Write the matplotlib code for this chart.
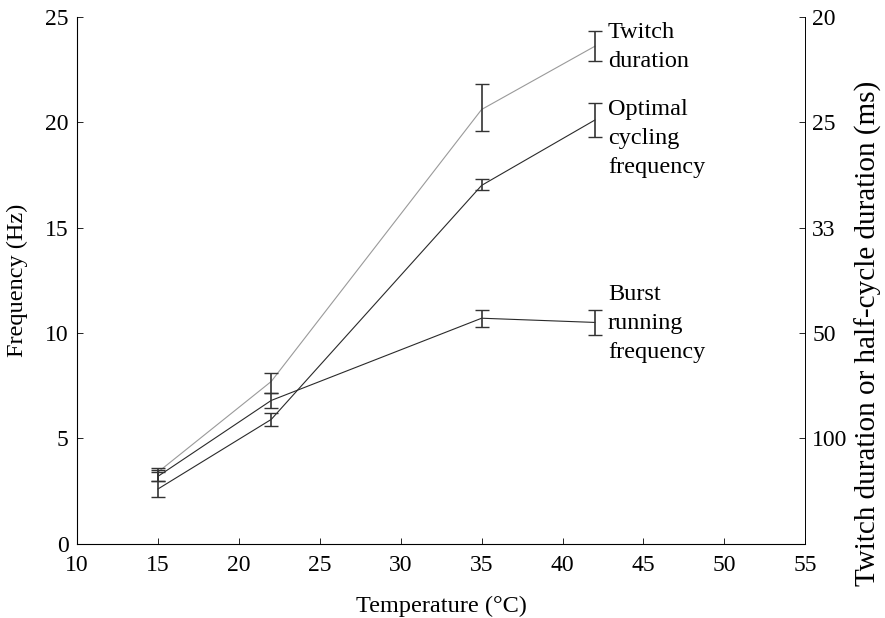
import matplotlib.pyplot as plt

plt.rcParams['font.family'] = ['Liberation Serif', 'DejaVu Serif']

# Temperaturas (°C)
temp = [15, 22, 35, 42]

# Séries (Hz) e limites das barras de erro (inferior, superior)
twitch = [3.4, 7.7, 20.6, 23.6]
twitch_lo = [3.0, 7.15, 19.6, 22.9]
twitch_hi = [3.6, 8.1, 21.8, 24.3]

optimal = [2.6, 5.9, 17.0, 20.1]
optimal_lo = [2.2, 5.6, 16.8, 19.3]
optimal_hi = [3.5, 6.2, 17.3, 20.9]

burst = [3.2, 6.8, 10.7, 10.5]
burst_lo = [3.0, 6.45, 10.3, 9.9]
burst_hi = [3.4, 7.15, 11.1, 11.1]

# Eixo direito: duração (ms) correspondente
right_ticks = [25, 20, 15, 10, 5]
right_labels = ["20", "25", "33", "50", "100"]

fig = plt.figure(figsize=(8.85, 6.18), dpi=100)
ax = fig.add_axes([0.087, 0.12, 0.823, 0.853])


def serie(y, lo, hi, cor_linha):
    yerr = [[v - l for v, l in zip(y, lo)], [h - v for v, h in zip(y, hi)]]
    ax.plot(temp, y, color=cor_linha, lw=0.8)
    ax.errorbar(temp, y, yerr=yerr, fmt='none', ecolor='#333333',
                elinewidth=1.2, capsize=5, capthick=1.0)


serie(twitch, twitch_lo, twitch_hi, '#9a9a9a')
serie(optimal, optimal_lo, optimal_hi, '#2a2a2a')
serie(burst, burst_lo, burst_hi, '#2a2a2a')

ax.set_xlim(10, 55)
ax.set_ylim(0, 25)
ax.set_xticks(range(10, 56, 5))
ax.set_yticks(range(0, 26, 5))
ax.spines['top'].set_visible(False)
for s in ['left', 'bottom', 'right']:
    ax.spines[s].set_linewidth(0.6)
ax.tick_params(direction='in', length=4, width=0.6, labelsize=17, pad=6)
ax.tick_params(axis='x', pad=8)

ax2 = ax.twinx()
ax2.set_ylim(0, 25)
ax2.set_yticks(right_ticks)
ax2.set_yticklabels(right_labels)
ax2.spines['top'].set_visible(False)
ax2.spines['right'].set_linewidth(0.6)
ax2.tick_params(direction='in', length=4, width=0.6, labelsize=17, pad=5)

ax.set_xlabel("Temperature (°C)", fontsize=17.5, labelpad=14)
ax.set_ylabel("Frequency (Hz)", fontsize=17.5)
ax.yaxis.set_label_coords(-0.067, 0.5)
ax2.set_ylabel("Twitch duration or half-cycle duration (ms)", fontsize=21)
ax2.yaxis.set_label_coords(1.068, 0.40)

kw = dict(fontsize=17.5, va='top', ha='left', linespacing=1.5)
ax.text(42.8, 24.75, "Twitch\nduration", **kw)
ax.text(42.8, 21.12, "Optimal\ncycling\nfrequency", **kw)
ax.text(42.8, 12.32, "Burst\nrunning\nfrequency", **kw)

fig.savefig("out.png", dpi=100)
